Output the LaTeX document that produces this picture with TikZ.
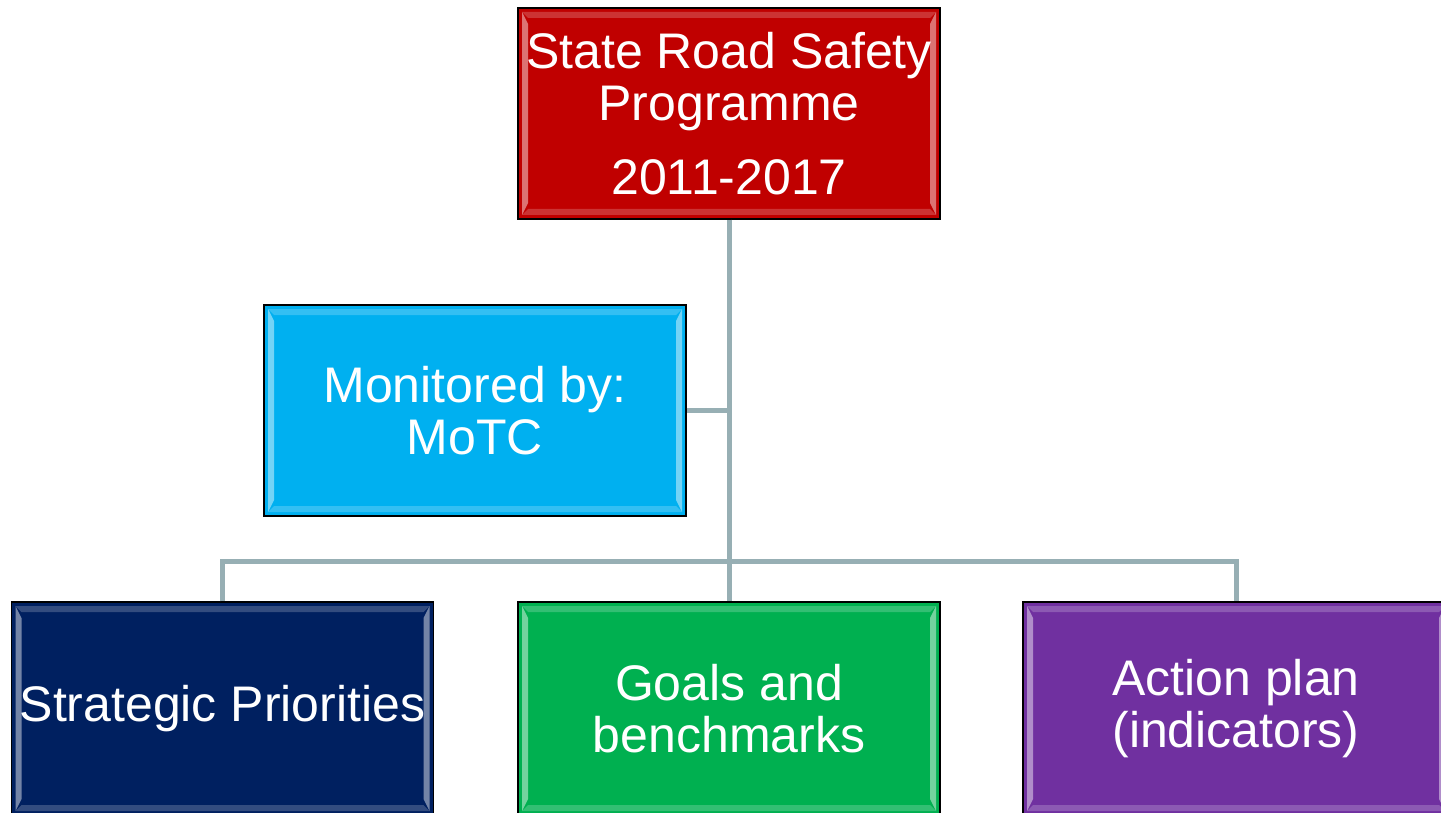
\documentclass[tikz,border=0pt]{standalone}
\usepackage{fontspec}
\setmainfont{Liberation Sans}
\definecolor{cred}{HTML}{C00000}
\definecolor{ccyan}{HTML}{00B0F0}
\definecolor{cnavy}{HTML}{002060}
\definecolor{cgreen}{HTML}{00B050}
\definecolor{cpurple}{HTML}{7030A0}
\definecolor{linkc}{HTML}{97AFB4}
\begin{document}
\begin{tikzpicture}[x=1pt,y=-1pt,
  box/.style={draw=black, line width=1.3pt, fill=#1, text=white, inner sep=0pt,
    minimum width=422pt, minimum height=211pt, align=center,
    font=\fontsize{50}{52.5}\selectfont,
    path picture={
      \fill[white,opacity=0.45]
        ([shift={(4pt,-4pt)}]path picture bounding box.north west) --
        ([shift={(10pt,-16pt)}]path picture bounding box.north west) --
        ([shift={(10pt,16pt)}]path picture bounding box.south west) --
        ([shift={(4pt,4pt)}]path picture bounding box.south west) -- cycle;
      \fill[white,opacity=0.45]
        ([shift={(-4pt,-4pt)}]path picture bounding box.north east) --
        ([shift={(-10pt,-16pt)}]path picture bounding box.north east) --
        ([shift={(-10pt,16pt)}]path picture bounding box.south east) --
        ([shift={(-4pt,4pt)}]path picture bounding box.south east) -- cycle;
      \fill[white,opacity=0.2]
        ([shift={(4pt,-4pt)}]path picture bounding box.north west) --
        ([shift={(-4pt,-4pt)}]path picture bounding box.north east) --
        ([shift={(-10pt,-10pt)}]path picture bounding box.north east) --
        ([shift={(10pt,-10pt)}]path picture bounding box.north west) -- cycle;
      \fill[white,opacity=0.2]
        ([shift={(4pt,4pt)}]path picture bounding box.south west) --
        ([shift={(-4pt,4pt)}]path picture bounding box.south east) --
        ([shift={(-10pt,10pt)}]path picture bounding box.south east) --
        ([shift={(10pt,10pt)}]path picture bounding box.south west) -- cycle;
    }},
  link/.style={draw=linkc, line width=5pt}]
\clip (0,0) rectangle (1441,813);
\fill[white] (0,0) rectangle (1441,813);

\node[box=cred] (top) at (729,113.5) {State Road Safety\\Programme\\[21pt]2011-2017};
\node[box=ccyan] (mon) at (475,410.5) {Monitored by:\\MoTC};
\node[box=cnavy, minimum height=213pt] (strat) at (222.5,708.5) {Strategic Priorities};
\node[box=cgreen, minimum height=213pt] (goal) at (729,708.5) {Goals and\\benchmarks};
\node[box=cpurple, minimum height=213pt, minimum width=426pt] (act) at (1236,708.5) {Action plan\\(indicators)};

\coordinate (bus) at (729,561);
\draw[link] (top.south) -- (goal.north);
\draw[link] (mon.east) -- (mon.east -| top.south);
\draw[link] (strat.north) |- (bus) -| (act.north);
\end{tikzpicture}
\end{document}
